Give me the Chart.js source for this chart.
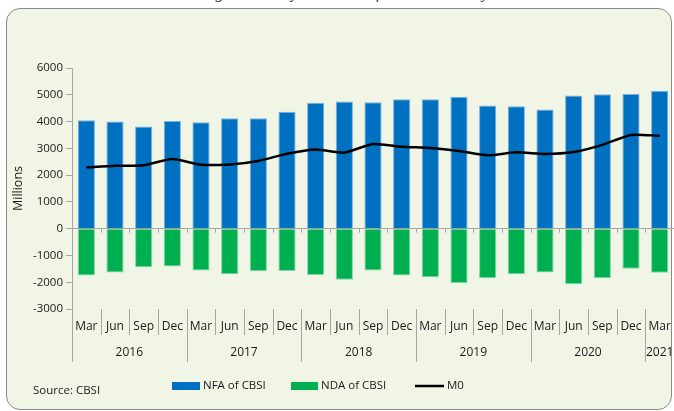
<!DOCTYPE html>
<html lang="en">
<head>
<meta charset="UTF-8">
<title>Major drivers of Reserve Money</title>
<script src="https://cdn.jsdelivr.net/npm/chart.js"></script>
<style>
    html, body { margin: 0; padding: 0; background: #ffffff; }
    #wrap { position: relative; width: 674px; height: 411px; overflow: hidden; }
    #box {
        position: absolute; left: 6px; top: 8px; width: 664px; height: 400px;
        background: #f1f5e6; border: 1px solid #8a8a8a; border-radius: 14px;
    }
    #title {
        position: absolute; left: 0; width: 690px; top: -17px; text-align: center;
        font: italic 17px "Liberation Serif", serif; color: #444;
    }
    canvas { position: absolute; left: 0; top: 0; }
</style>
</head>
<body>
<div id="wrap">
    <div id="title">Figure 3: Major drivers of Reserve Money</div>
    <div id="box"></div>
    <canvas id="chart" width="674" height="411"></canvas>
</div>
<script>
    // data
    const months = ['Mar', 'Jun', 'Sep', 'Dec', 'Mar', 'Jun', 'Sep', 'Dec', 'Mar', 'Jun', 'Sep', 'Dec',
        'Mar', 'Jun', 'Sep', 'Dec', 'Mar', 'Jun', 'Sep', 'Dec', 'Mar'];
    const years = ['2016', '2017', '2018', '2019', '2020', '2021'];
    const nfa = [4050, 4000, 3820, 4020, 3970, 4120, 4120, 4370, 4700, 4750, 4720,
        4830, 4830, 4930, 4600, 4570, 4450, 4970, 5020, 5030, 5150];
    const nda = [-1750, -1640, -1440, -1410, -1560, -1700, -1590, -1580, -1730, -1910, -1560,
        -1750, -1810, -2030, -1850, -1700, -1640, -2080, -1850, -1500, -1650];
    const m0 = [2290, 2350, 2370, 2600, 2390, 2400, 2530, 2800, 2960, 2840, 3160,
        3060, 3010, 2900, 2740, 2850, 2790, 2860, 3130, 3500, 3470];

    const FONT = '"Open Sans", "Liberation Sans", sans-serif';
    const GREY = '#a6a6a6';

    // two-level axis labels, separators, legend, source line
    const decoPlugin = {
        id: 'deco',
        afterDraw(chart) {
            const ctx = chart.ctx;
            const area = chart.chartArea;
            const x = chart.scales.x;
            const y = chart.scales.y;
            const y0 = y.getPixelForValue(0);
            const step = (area.right - area.left) / months.length;

            ctx.save();
            ctx.strokeStyle = GREY;
            ctx.lineWidth = 1;
            ctx.beginPath();
            ctx.moveTo(area.left + 0.5, area.bottom);
            ctx.lineTo(area.left + 0.5, 362);
            for (let i = 1; i <= months.length; i++) {
                const px = Math.round(area.left + i * step) + 0.5;
                ctx.moveTo(px, y0);
                ctx.lineTo(px, y0 + 4);
                ctx.moveTo(px, area.bottom);
                ctx.lineTo(px, i % 4 === 0 ? 362 : 335);
            }
            ctx.stroke();

            ctx.fillStyle = '#1a1a1a';
            ctx.font = '12px ' + FONT;
            ctx.textAlign = 'center';
            ctx.textBaseline = 'middle';
            months.forEach((m, i) => ctx.fillText(m, x.getPixelForValue(i), 327));
            years.forEach((yr, j) => {
                const first = j * 4;
                const last = Math.min(first + 3, months.length - 1);
                const cx = (x.getPixelForValue(first) + x.getPixelForValue(last)) / 2;
                ctx.fillText(yr, cx, 353);
            });

            // legend
            const ds = chart.data.datasets;
            ctx.textAlign = 'left';
            ctx.font = '11.5px ' + FONT;
            ctx.fillStyle = ds[0].backgroundColor;
            ctx.fillRect(172, 382, 28, 8);
            ctx.fillStyle = ds[1].backgroundColor;
            ctx.fillRect(291, 382, 27, 8);
            ctx.strokeStyle = '#000';
            ctx.lineWidth = 2.5;
            ctx.beginPath();
            ctx.moveTo(415, 386);
            ctx.lineTo(444, 386);
            ctx.stroke();
            ctx.fillStyle = '#1a1a1a';
            ctx.fillText(ds[0].label, 203, 386);
            ctx.fillText(ds[1].label, 321, 386);
            ctx.fillText(ds[2].label, 447, 386);
            ctx.fillText('Source: CBSI', 33, 391);
            ctx.restore();
        }
    };

    new Chart(document.getElementById('chart'), {
        type: 'bar',
        data: {
            labels: months,
            datasets: [
                { label: 'NFA of CBSI', data: nfa, backgroundColor: '#0070c0', borderColor: '#7cb0de', borderWidth: 1, order: 2 },
                { label: 'NDA of CBSI', data: nda, backgroundColor: '#00b050', borderColor: '#7fd6a4', borderWidth: 1, order: 2 },
                { label: 'M0', type: 'line', data: m0, borderColor: '#000000', borderWidth: 2.5, pointRadius: 0, tension: 0.2, order: 0 }
            ]
        },
        options: {
            responsive: false,
            animation: false,
            categoryPercentage: 0.6,
            barPercentage: 1,
            layout: { padding: { top: 68, left: 0, right: 0, bottom: 0 } },
            plugins: { legend: { display: false }, tooltip: { enabled: false } },
            scales: {
                x: {
                    stacked: true,
                    ticks: { display: false },
                    grid: { display: false },
                    border: { display: false },
                    afterFit: s => { s.height = 102; }
                },
                y: {
                    min: -3000,
                    max: 6000,
                    ticks: {
                        stepSize: 1000, color: '#1a1a1a', padding: 3,
                        font: { family: FONT, size: 11.5 },
                        callback: v => String(v)
                    },
                    grid: {
                        color: c => (c.tick && c.tick.value === 0 ? GREY : 'transparent'),
                        tickColor: GREY,
                        tickLength: 6
                    },
                    border: { color: GREY },
                    title: {
                        display: true, text: 'Millions', color: '#1a1a1a',
                        font: { family: FONT, size: 12.5 }, padding: { top: 11, bottom: 0 }
                    },
                    afterFit: s => { s.width = 72; }
                }
            }
        },
        plugins: [decoPlugin]
    });
</script>
</body>
</html>
